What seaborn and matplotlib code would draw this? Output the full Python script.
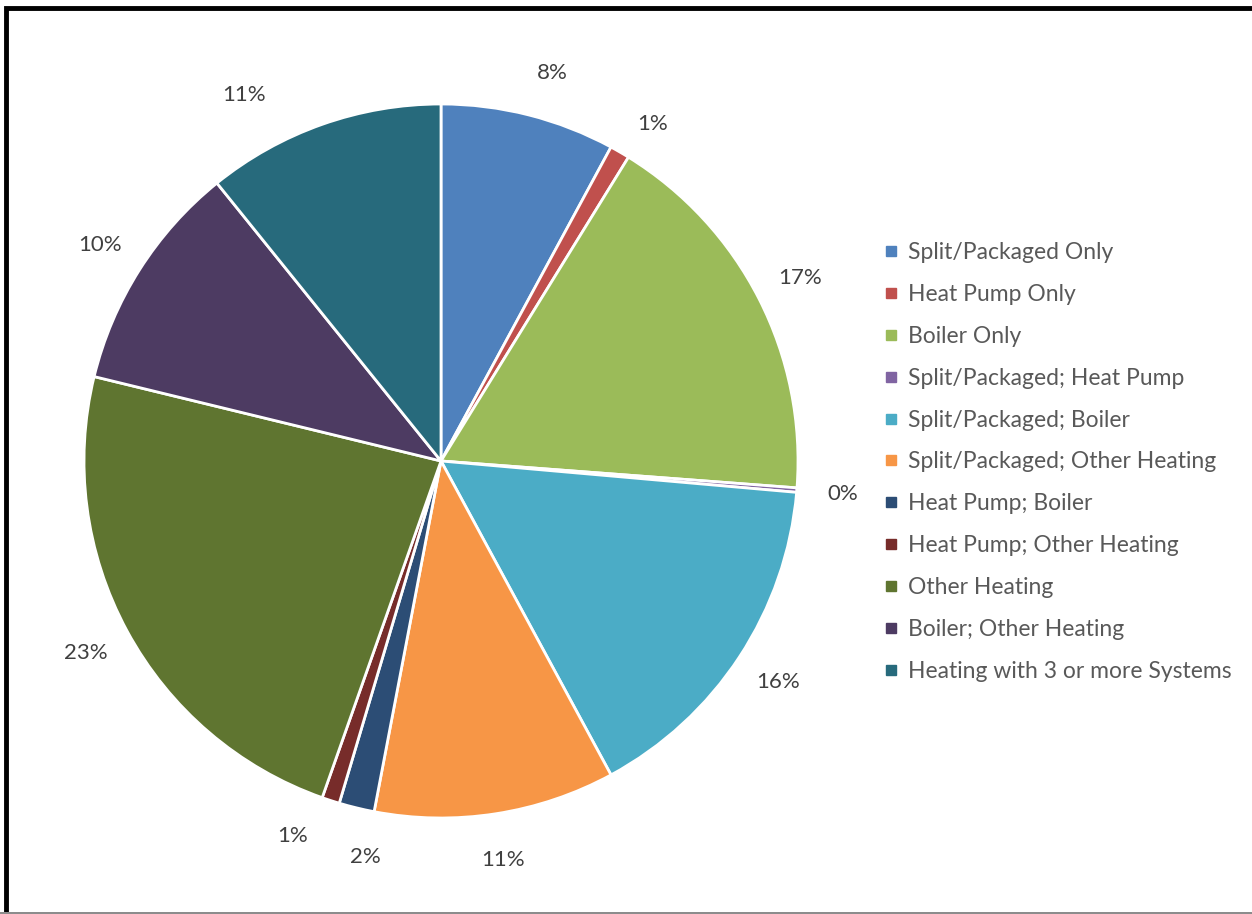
import matplotlib.pyplot as plt
import seaborn as sns
import numpy as np
from matplotlib.lines import Line2D
from matplotlib.patches import Rectangle

# heating system shares (percent)
systems = ['Split/Packaged Only', 'Heat Pump Only', 'Boiler Only',
           'Split/Packaged; Heat Pump', 'Split/Packaged; Boiler',
           'Split/Packaged; Other Heating', 'Heat Pump; Boiler',
           'Heat Pump; Other Heating', 'Other Heating',
           'Boiler; Other Heating', 'Heating with 3 or more Systems']
shares = [7.9, 0.9, 17.4, 0.2, 15.7, 10.9, 1.6, 0.8, 23.4, 10.4, 10.8]
colors = ['#4F81BD', '#C0504D', '#9BBB59', '#8064A2', '#4BACC6', '#F79646',
          '#2C4D75', '#772C2A', '#5F7530', '#4D3B62', '#276A7C']

# small angular nudges (deg) for some percent labels, like Excel's best fit
label_shift = {0: -1.8, 1: -2.0, 6: 2.9, 7: -3.6, 10: 8.9}

sns.set_theme(style='white')
plt.rcParams['font.family'] = ['Lato', 'DejaVu Sans']

W, H = 1252, 914
fig = plt.figure(figsize=(W / 100, H / 100), dpi=100)

# pie axes: centre (441, 461), radius 357 px
cx, cy, r = 441, 461, 357
ax = fig.add_axes([(cx - r) / W, (H - cy - r) / H, 2 * r / W, 2 * r / H])
wedges, texts, autotexts = ax.pie(
    shares, colors=colors, startangle=90, counterclock=False,
    autopct='%.0f%%', pctdistance=1.13,
    wedgeprops=dict(edgecolor='white', linewidth=2),
    textprops=dict(color='#404040', fontsize=16))

for i, d in label_shift.items():
    w = wedges[i]
    ang = np.deg2rad((w.theta1 + w.theta2) / 2 + d)
    rr = {1: 1.115, 10: 1.165}.get(i, 1.13)
    autotexts[i].set_position((rr * np.cos(ang), rr * np.sin(ang)))

ax.set_xlim(-1, 1)
ax.set_ylim(-1, 1)
ax.set_aspect('equal')
ax.axis('off')

handles = [Line2D([], [], marker='s', linestyle='none', markersize=7,
                  markerfacecolor=c, markeredgecolor=c) for c in colors]
fig.legend(handles, systems, loc='upper left',
           bbox_to_anchor=(876 / W, 1 - 233 / H), frameon=False,
           fontsize=16.5, labelcolor='#595959', handlelength=0.55,
           handletextpad=0.45, labelspacing=0.91, borderaxespad=0)

# outer frame of the chart
fig.patches.append(Rectangle((6 / W, 0), 1.2, 1 - 8 / H, transform=fig.transFigure,
                             fill=False, edgecolor='black', linewidth=3.5))
fig.patches.append(Rectangle((0, 0), 1, 2 / H, transform=fig.transFigure,
                             facecolor='#8c8c8c', edgecolor='none'))

fig.savefig('out.png', dpi=100)
